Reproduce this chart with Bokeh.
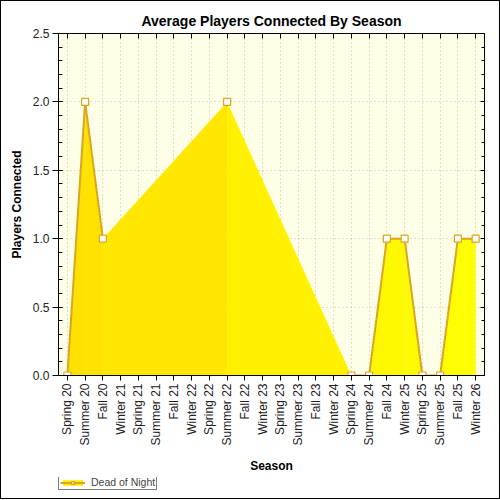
import math
from bokeh.plotting import figure
from bokeh.layouts import column
from bokeh.models import (FactorRange, Range1d, FixedTicker, CategoricalAxis,
                          LinearAxis, Legend, LegendItem, PrintfTickFormatter)
from bokeh.embed import file_html
from bokeh.resources import INLINE

NaN = float("nan")

seasons = ["Spring 20", "Summer 20", "Fall 20", "Winter 21", "Spring 21", "Summer 21",
           "Fall 21", "Winter 22", "Spring 22", "Summer 22", "Fall 22", "Winter 23",
           "Spring 23", "Summer 23", "Fall 23", "Winter 24", "Spring 24", "Summer 24",
           "Fall 24", "Winter 25", "Spring 25", "Summer 25", "Fall 25", "Winter 26"]
players = [0, 2, 1, NaN, NaN, NaN, NaN, NaN, NaN, 2, NaN, NaN, NaN, NaN, NaN, NaN,
           0, 0, 1, 1, 0, 0, 1, 1]
series_name = "Dead of Night"
y_ticks = [0.0, 0.5, 1.0, 1.5, 2.0, 2.5]
y_minor = [round(i * 0.1, 1) for i in range(26)]

FONT = "Liberation Sans"
LINE = "#DAA520"
FILL_LEFT = (0xFF, 0xE0, 0x00)
FILL_RIGHT = (0xFF, 0xFF, 0x00)

p = figure(x_range=FactorRange(factors=seasons, range_padding=0),
           y_range=Range1d(0, 2.5),
           frame_width=426, frame_height=342,
           min_border_left=57, min_border_right=15, min_border_top=32, min_border_bottom=102,
           output_backend="svg", toolbar_location=None,
           background_fill_color="#FFFFE8", border_fill_color="white")

p.title.text = "Average Players Connected By Season"
p.title.align = "center"
p.title.text_font = FONT
p.title.text_font_size = "14px"
p.title.text_font_style = "bold"
p.title.text_color = "black"

p.outline_line_color = "black"
p.outline_line_width = 1

# area segments between consecutive defined points (colour stepping approximates gradient)
defined = [i for i, v in enumerate(players) if not math.isnan(v)]
for a, b in zip(defined[:-1], defined[1:]):
    t = ((a + b) / 2) / (len(seasons) - 1)
    col = "#%02X%02X%02X" % tuple(int(round(FILL_LEFT[k] + (FILL_RIGHT[k] - FILL_LEFT[k]) * t))
                                  for k in range(3))
    p.varea(x=[seasons[a], seasons[b]], y1=[0, 0], y2=[players[a], players[b]],
            fill_color=col, fill_alpha=1)

p.line(seasons, players, line_color=LINE, line_width=2)
pts_x = [seasons[i] for i in defined]
pts_y = [players[i] for i in defined]
p.scatter(pts_x, pts_y, marker="square", size=7, fill_color="white",
          line_color=LINE, line_width=1.2)

# axes
xa = p.xaxis[0]
xa.axis_label = "Season"
xa.major_label_orientation = math.pi / 2
ya = p.yaxis[0]
ya.axis_label = "Players Connected"
ya.ticker = FixedTicker(ticks=y_ticks, minor_ticks=y_minor)
ya.formatter = PrintfTickFormatter(format="%.1f")
for ax in (xa, ya):
    ax.axis_label_text_font = FONT
    ax.axis_label_text_font_size = "12px"
    ax.axis_label_text_font_style = "bold"
    ax.axis_label_text_color = "black"
    ax.major_label_text_font = FONT
    ax.major_label_text_font_size = "12px"
    ax.major_label_text_color = "#222222"
    ax.axis_line_color = "black"
    ax.major_tick_line_color = "black"
xa.major_tick_out = 5
xa.major_tick_in = 0
xa.major_label_standoff = 3
xa.axis_label_standoff = 10
ya.major_tick_out = 6
ya.major_tick_in = 4
ya.minor_tick_in = 4
ya.minor_tick_out = 0
ya.minor_tick_line_color = "black"
ya.major_label_standoff = 3
ya.axis_label_standoff = 6

top = CategoricalAxis(major_tick_in=5, major_tick_out=0, major_label_text_font_size="0px",
                      major_label_text_color=None,
                      major_label_standoff=0, axis_line_color=None,
                      major_tick_line_color="black")
p.add_layout(top, "above")
right = LinearAxis(ticker=FixedTicker(ticks=y_ticks, minor_ticks=y_minor),
                   major_tick_in=4, major_tick_out=0, minor_tick_in=3, minor_tick_out=0,
                   major_label_text_font_size="0px", major_label_text_color=None,
                   major_label_standoff=0,
                   axis_line_color=None, major_tick_line_color="black",
                   minor_tick_line_color="black")
p.add_layout(right, "right")

# grids
p.xgrid.grid_line_color = "#BBBBBB"
p.xgrid.grid_line_dash = "1 3"
p.ygrid.grid_line_color = "#BBBBBB"
p.ygrid.grid_line_dash = "1 3"
p.ygrid.ticker = FixedTicker(ticks=y_ticks)

# legend strip below the chart (proxy glyphs kept outside the strip's visible range)
leg = figure(width=498, height=21, x_range=Range1d(0, 1), y_range=Range1d(0, 1),
             x_axis_location=None, y_axis_location=None,
             min_border=0, min_border_left=0, min_border_right=0,
             min_border_top=0, min_border_bottom=0,
             output_backend="svg", toolbar_location=None,
             outline_line_color=None, background_fill_color="white",
             border_fill_color="white")
leg.grid.visible = False
la = leg.varea(x=[-3, -2], y1=[-3, -3], y2=[-2, -2], fill_color="#FFEA00")
ll = leg.line(x=[-3, -2], y=[-3, -2], line_color=LINE, line_width=2)
ls = leg.scatter(x=[-3], y=[-3], marker="square", size=7, fill_color="white",
                 line_color=LINE, line_width=1.2)
legend = Legend(items=[LegendItem(label=series_name, renderers=[la, ll, ls])],
                location=(0, 8), orientation="horizontal",
                border_line_color="black", border_line_width=1,
                background_fill_color="white", background_fill_alpha=1,
                padding=1, margin=0, spacing=0,
                glyph_width=25, glyph_height=7, label_standoff=6,
                label_text_font=FONT, label_text_font_size="10.5px",
                label_height=8)
leg.add_layout(legend, "center")

layout = column(p, leg, spacing=0, styles={"border": "1px solid black"})

open("out.html", "w").write(file_html(layout, INLINE))
